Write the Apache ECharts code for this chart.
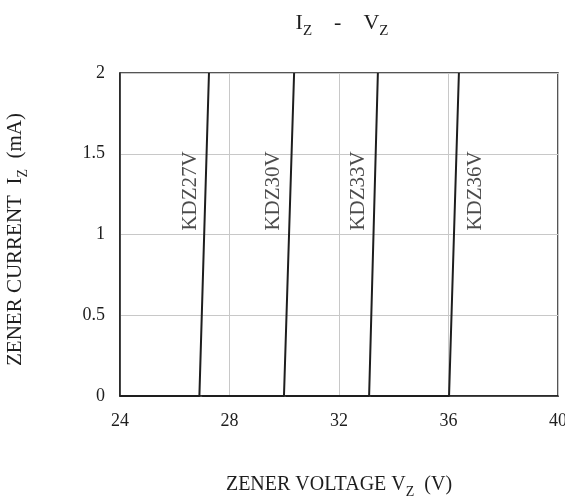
<!DOCTYPE html>
<html>
<head>
<meta charset="utf-8">
<script src="https://cdn.jsdelivr.net/npm/echarts@6/dist/echarts.min.js"></script>
<style>html,body{margin:0;padding:0;background:#fff}#c{width:565px;height:499px}</style>
</head>
<body>
<div id="c"></div>
<script>
// Data
const xTicks = [24, 28, 32, 36, 40];
const yTicks = [0, 0.5, 1, 1.5, 2];
const seriesNames = ['KDZ27V', 'KDZ30V', 'KDZ33V', 'KDZ36V'];
const kdz27V_v = [24.0, 26.90, 27.25];
const kdz27V_i = [0, 0, 2];
const kdz30V_v = [27.0, 29.99, 30.36];
const kdz30V_i = [0, 0, 2];
const kdz33V_v = [30.05, 33.10, 33.42];
const kdz33V_i = [0, 0, 2];
const kdz36V_v = [33.15, 36.02, 36.38];
const kdz36V_i = [0, 0, 2];
const labelV = [26.58, 29.6, 32.72, 37.0];
const labelI = [1.27, 1.27, 1.27, 1.27];

const FONT = '"Liberation Serif", "Times New Roman", serif';
const INK = '#1e1e1e';
const curves = [[kdz27V_v, kdz27V_i], [kdz30V_v, kdz30V_i], [kdz33V_v, kdz33V_i], [kdz36V_v, kdz36V_i]];

const lineSeries = curves.map((c, k) => ({
  name: seriesNames[k],
  type: 'line',
  data: c[0].map((v, j) => [v, c[1][j]]),
  showSymbol: false,
  lineStyle: { color: INK, width: 2 },
  silent: true,
  z: 3
}));

const labelSeries = {
  type: 'scatter',
  data: labelV.map((v, k) => ({ value: [v, labelI[k]], name: seriesNames[k] })),
  symbolSize: 0,
  silent: true,
  label: {
    show: true,
    position: 'inside',
    formatter: p => p.name,
    rotate: 90,
    fontFamily: FONT,
    fontSize: 21,
    color: INK
  },
  z: 4
};

const nameRich = {
  a: { fontFamily: FONT, fontSize: 20, color: INK, verticalAlign: 'bottom', lineHeight: 23 },
  s: { fontFamily: FONT, fontSize: 14, color: INK, verticalAlign: 'bottom', lineHeight: 16, padding: [0, 0, -4, 0] }
};
const yNameRich = {
  a: { fontFamily: FONT, fontSize: 21, color: INK, verticalAlign: 'bottom', lineHeight: 24 },
  s: { fontFamily: FONT, fontSize: 14, color: INK, verticalAlign: 'bottom', lineHeight: 16, padding: [0, 0, -4, 0] }
};

const chart = echarts.init(document.getElementById('c'), null, { renderer: 'canvas' });
chart.setOption({
  animation: false,
  backgroundColor: '#fff',
  title: {
    text: '{a|I}{s|Z}{a|    -    V}{s|Z}',
    left: 337,
    top: 3,
    textAlign: 'center',
    textStyle: {
      fontWeight: 'normal',
      rich: {
        a: { fontFamily: FONT, fontSize: 22, fontWeight: 'normal', color: INK, verticalAlign: 'bottom', lineHeight: 26 },
        s: { fontFamily: FONT, fontSize: 15, fontWeight: 'normal', color: INK, verticalAlign: 'bottom', lineHeight: 17, padding: [0, 0, -5, 0] }
      }
    }
  },
  grid: {
    left: 120, top: 73, right: 7, bottom: 103,
    containLabel: false,
    outerBoundsMode: 'none',
    show: true, borderColor: INK, borderWidth: 1.5, backgroundColor: 'transparent'
  },
  xAxis: {
    type: 'value',
    min: xTicks[0], max: xTicks[xTicks.length - 1], interval: 4,
    axisLine: { show: true, lineStyle: { color: INK, width: 1.5 } },
    axisTick: { show: false },
    splitLine: { show: true, lineStyle: { color: '#c8c8c8', width: 1 } },
    axisLabel: { fontFamily: FONT, fontSize: 18, color: INK, margin: 16 },
    name: '{a|ZENER VOLTAGE V}{s|Z}{a|  (V)}',
    nameLocation: 'middle',
    nameGap: 76,
    nameTextStyle: { rich: nameRich }
  },
  yAxis: {
    type: 'value',
    min: yTicks[0], max: yTicks[yTicks.length - 1], interval: 0.5,
    axisLine: { show: true, lineStyle: { color: INK, width: 1.5 } },
    axisTick: { show: false },
    splitLine: { show: true, lineStyle: { color: '#c8c8c8', width: 1 } },
    axisLabel: { fontFamily: FONT, fontSize: 18, color: INK, margin: 15 },
    name: '{a|ZENER CURRENT  I}{s|Z}{a|  (mA)}',
    nameLocation: 'middle',
    nameRotate: 90,
    nameGap: 94,
    nameTextStyle: { rich: yNameRich, padding: [0, 10, 0, 0] }
  },
  series: [...lineSeries, labelSeries]
});
</script>
</body>
</html>
